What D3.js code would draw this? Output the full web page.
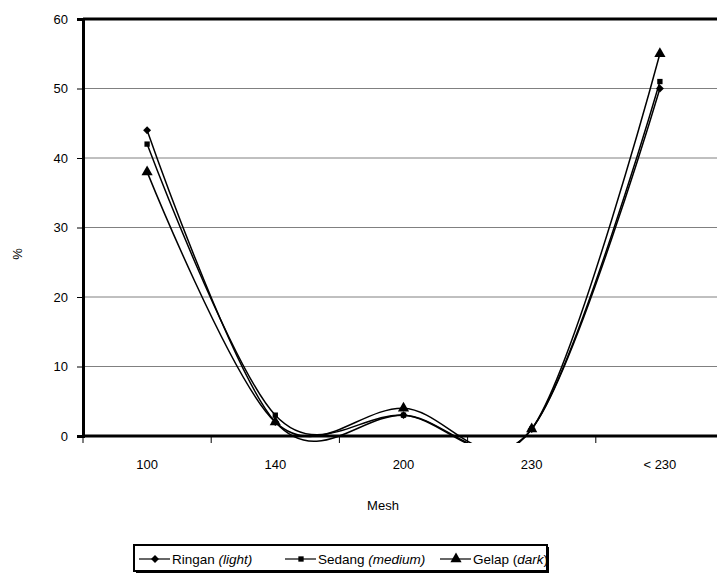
<!DOCTYPE html>
<html>
<head>
<meta charset="utf-8">
<script src="https://cdn.jsdelivr.net/npm/d3@7"></script>
<style>
  html, body { margin: 0; padding: 0; background: #fff; }
  svg { display: block; font-family: "Liberation Sans", Arial, sans-serif; }
</style>
</head>
<body>
<svg id="chart" width="717" height="583"></svg>
<script>
const categories = ["100", "140", "200", "230", "< 230"];
const ringan = [44, 2, 3, 1, 50];
const sedang = [42, 3, 3, 1, 51];
const gelap  = [38, 2, 4, 1, 55];
const yTicks = [0, 10, 20, 30, 40, 50, 60];
const seriesNames = ["Ringan", "Sedang", "Gelap"];
const seriesSub = ["light", "medium", "dark"];

(function () {
const svg = d3.select("#chart");
const pL = 83, pR = 724, pT = 19, pB = 436;

const x = d3.scaleBand().domain(categories).range([pL, pR]);
const y = d3.scaleLinear().domain([0, 60]).range([pB, pT]);

// gridlines
svg.append("g").selectAll("line").data(yTicks.filter(d => d > 0 && d < 60)).join("line")
  .attr("x1", pL).attr("x2", pR)
  .attr("y1", d => y(d)).attr("y2", d => y(d))
  .attr("stroke", "#808080").attr("stroke-width", 1);

// top border
svg.append("line").attr("x1", pL).attr("x2", pR)
  .attr("y1", y(60)).attr("y2", y(60)).attr("stroke", "#000").attr("stroke-width", 3);

// y axis
const yAxis = d3.axisLeft(y).tickValues(yTicks).tickSize(6).tickPadding(9).tickFormat(d => String(d));
const gy = svg.append("g").attr("transform", `translate(${pL},0)`).call(yAxis);
gy.select(".domain").attr("stroke-width", 3);
gy.selectAll(".tick line").attr("stroke", "#000");
gy.selectAll("text").attr("font-size", 13).attr("fill", "#000");

// x axis
const boundaries = categories.map(c => x(c)).concat([pR]);
svg.append("g").selectAll("line").data(boundaries).join("line")
  .attr("x1", d => d).attr("x2", d => d)
  .attr("y1", pB).attr("y2", pB + 7)
  .attr("stroke", "#000").attr("stroke-width", 1);
svg.append("line").attr("x1", pL - 1).attr("x2", pR)
  .attr("y1", pB).attr("y2", pB).attr("stroke", "#000").attr("stroke-width", 3);
svg.append("g").selectAll("text").data(categories).join("text")
  .attr("x", d => x(d) + x.bandwidth() / 2)
  .attr("y", pB + 33)
  .attr("text-anchor", "middle").attr("font-size", 13).text(d => d);

// axis titles
svg.append("text").attr("x", 383).attr("y", 510).attr("text-anchor", "middle")
  .attr("font-size", 13).text("Mesh");
svg.append("text").attr("transform", "translate(22,254) rotate(-90)")
  .attr("text-anchor", "middle").attr("font-size", 13).text("%");

// clip
svg.append("clipPath").attr("id", "clip").append("rect")
  .attr("x", pL).attr("y", pT - 5).attr("width", pR - pL).attr("height", pB - pT + 12);

const line = d3.line()
  .x((d, i) => x(categories[i]) + x.bandwidth() / 2)
  .y(d => y(d))
  .curve(d3.curveCardinal.tension(0));

const data = [ringan, sedang, gelap];
const symbols = [d3.symbolDiamond2, d3.symbolSquare2, d3.symbolTriangle2];
const symSizes = [40, 36, 90];

const gLines = svg.append("g").attr("clip-path", "url(#clip)");
data.forEach((vals) => {
  gLines.append("path").datum(vals).attr("d", line)
    .attr("fill", "none").attr("stroke", "#000").attr("stroke-width", 1.5);
});
data.forEach((vals, si) => {
  svg.append("g").selectAll("path").data(vals).join("path")
    .attr("transform", (d, i) => `translate(${x(categories[i]) + x.bandwidth() / 2},${y(d)})`)
    .attr("d", d3.symbol().type(symbols[si]).size(symSizes[si]))
    .attr("fill", "#000").attr("stroke", "none");
});

// legend
const lg = svg.append("g");
const lx = 134, ly = 545, lw = 413, lh = 26;
lg.append("rect").attr("x", lx + 2).attr("y", ly + 2).attr("width", lw).attr("height", lh).attr("fill", "#000");
lg.append("rect").attr("x", lx).attr("y", ly).attr("width", lw).attr("height", lh)
  .attr("fill", "#fff").attr("stroke", "#000").attr("stroke-width", 2);
const itemX = [139, 285, 440];
const lineY = 559;
seriesNames.forEach((name, si) => {
  const x0 = itemX[si];
  lg.append("line").attr("x1", x0).attr("x2", x0 + 31).attr("y1", lineY).attr("y2", lineY)
    .attr("stroke", "#000").attr("stroke-width", 1.2);
  lg.append("path").attr("transform", `translate(${x0 + 16},${lineY})`)
    .attr("d", d3.symbol().type(symbols[si]).size(symSizes[si]))
    .attr("fill", "#000");
  const t = lg.append("text").attr("x", x0 + 33).attr("y", lineY + 5)
    .attr("font-size", 13.5);
  t.append("tspan").text(name + " ");
  if (si === 2) {
    t.append("tspan").text("(");
    t.append("tspan").attr("font-style", "italic").text(seriesSub[si]);
    t.append("tspan").text(")");
  } else {
    t.append("tspan").attr("font-style", "italic").text("(" + seriesSub[si] + ")");
  }
});
})();
</script>
</body>
</html>
